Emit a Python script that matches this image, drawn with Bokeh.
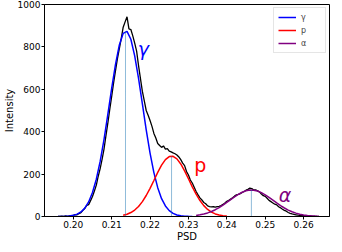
from bokeh.plotting import figure
from bokeh.models import Range1d, FixedTicker, Label, NumeralTickFormatter
from bokeh.embed import file_html
from bokeh.resources import INLINE

# measured spectrum (PSD bin centre, intensity)
psd = [0.1960, 0.1965, 0.1970, 0.1975, 0.1980, 0.1985, 0.1990, 0.1995,
       0.2000, 0.2005, 0.2010, 0.2015, 0.2020, 0.2025, 0.2030, 0.2035,
       0.2040, 0.2045, 0.2050, 0.2055, 0.2060, 0.2065, 0.2070, 0.2075,
       0.2080, 0.2085, 0.2090, 0.2095, 0.2100, 0.2105, 0.2110, 0.2115,
       0.2120, 0.2125, 0.2130, 0.2135, 0.2140, 0.2145, 0.2150, 0.2155,
       0.2160, 0.2165, 0.2170, 0.2175, 0.2180, 0.2185, 0.2190, 0.2195,
       0.2200, 0.2205, 0.2210, 0.2215, 0.2220, 0.2225, 0.2230, 0.2235,
       0.2240, 0.2245, 0.2250, 0.2255, 0.2260, 0.2265, 0.2270, 0.2275,
       0.2280, 0.2285, 0.2290, 0.2295, 0.2300, 0.2305, 0.2310, 0.2315,
       0.2320, 0.2325, 0.2330, 0.2335, 0.2340, 0.2345, 0.2350, 0.2355,
       0.2360, 0.2365, 0.2370, 0.2375, 0.2380, 0.2385, 0.2390, 0.2395,
       0.2400, 0.2405, 0.2410, 0.2415, 0.2420, 0.2425, 0.2430, 0.2435,
       0.2440, 0.2445, 0.2450, 0.2455, 0.2460, 0.2465, 0.2470, 0.2475,
       0.2480, 0.2485, 0.2490, 0.2495, 0.2500, 0.2505, 0.2510, 0.2515,
       0.2520, 0.2525, 0.2530, 0.2535, 0.2540, 0.2545, 0.2550, 0.2555,
       0.2560, 0.2565, 0.2570, 0.2575, 0.2580, 0.2585, 0.2590, 0.2595,
       0.2600, 0.2605, 0.2610, 0.2615, 0.2620, 0.2625, 0.2630, 0.2635]
intensity = [1, 0, 2, 1, 3, 1, 3, 4,
             5, 9, 8, 14, 18, 29, 38, 52,
             56, 75, 94, 120, 148, 190, 226, 270,
             318, 380, 440, 505, 566, 630, 688, 745,
             792, 840, 893, 918, 942, 885, 882, 852,
             818, 780, 712, 650, 590, 545, 500, 478,
             453, 425, 392, 370, 344, 335, 326, 333,
             318, 320, 308, 305, 300, 296, 290, 281,
             268, 252, 240, 212, 196, 172, 158, 138,
             118, 102, 88, 78, 66, 60, 50, 47,
             45, 46, 44, 47, 48, 52, 57, 64,
             72, 76, 82, 88, 96, 102, 104, 108,
             113, 118, 124, 128, 134, 132, 125, 126,
             121, 116, 106, 98, 95, 86, 76, 70,
             64, 58, 55, 46, 41, 34, 29, 25,
             19, 15, 12, 10, 8, 6, 5, 4,
             4, 3, 3, 2, 2, 1, 1, 1]

# fitted components
gamma_x = [0.196, 0.197, 0.198, 0.199, 0.200, 0.201, 0.202, 0.203, 0.204,
           0.205, 0.206, 0.207, 0.208, 0.209, 0.210, 0.211, 0.212, 0.213,
           0.214, 0.215, 0.216, 0.217, 0.218, 0.219, 0.220, 0.221, 0.222,
           0.223, 0.224, 0.225, 0.226, 0.227, 0.228, 0.229, 0.230, 0.231]
gamma_y = [0.2, 0.5, 1.1, 2.5, 5.4, 11.2, 21.6, 39.5, 68.7,
           113, 176, 260, 363, 482, 604, 718, 809, 864,
           873, 836, 758, 652, 531, 409, 299, 207, 136,
           84, 49.7, 27.7, 14.6, 7.3, 3.5, 1.6, 0.7, 0.3]

proton_x = [0.213, 0.214, 0.215, 0.216, 0.217, 0.218, 0.219, 0.220, 0.221,
            0.222, 0.223, 0.224, 0.225, 0.226, 0.227, 0.228, 0.229, 0.230,
            0.231, 0.232, 0.233, 0.234, 0.235, 0.236, 0.237, 0.238, 0.239,
            0.240]
proton_y = [6.0, 10.9, 18.6, 30.4, 47.3, 70.1, 99, 133, 170,
            208, 242, 268, 282.5, 284, 272, 248, 215, 178,
            140, 105.5, 75.4, 51.4, 33.4, 20.6, 12.2, 6.8, 3.6,
            1.9]

alpha_x = [0.232, 0.233, 0.234, 0.235, 0.236, 0.237, 0.238, 0.239, 0.240,
           0.241, 0.242, 0.243, 0.244, 0.245, 0.246, 0.247, 0.248, 0.249,
           0.250, 0.251, 0.252, 0.253, 0.254, 0.255, 0.256, 0.257, 0.258,
           0.259, 0.260, 0.261, 0.262, 0.263, 0.264]
alpha_y = [5.1, 7.9, 11.7, 16.9, 23.7, 32.1, 42.2, 53.8, 66.6,
           79.8, 92.8, 104.6, 114.4, 121.3, 124.7, 124.3, 120.2, 112.6,
           102.4, 90.3, 77.2, 63.9, 51.4, 40.1, 30.3, 22.2, 15.8,
           10.9, 7.3, 4.7, 3.0, 1.8, 1.1]

# peak centres and heights of the fits
peak_x = [0.2136, 0.2256, 0.2464]
peak_y = [875, 285, 125]

series_labels = ["γ", "p", "α"]
series_colors = ["#0000ff", "#ff0000", "#800080"]

x_ticks = [0.20, 0.21, 0.22, 0.23, 0.24, 0.25, 0.26]
y_ticks = [0, 200, 400, 600, 800, 1000]

p = figure(width=330, height=244, output_backend="svg", toolbar_location=None,
           x_range=Range1d(0.1925, 0.26675), y_range=Range1d(0, 1000),
           min_border_top=4, min_border_right=1, min_border_left=2,
           min_border_bottom=2)

p.background_fill_color = "white"
p.border_fill_color = "white"
p.outline_line_color = "black"
p.outline_line_width = 1
p.xgrid.visible = False
p.ygrid.visible = False

FONT = "DejaVu Sans"
for ax in (p.xaxis[0], p.yaxis[0]):
    ax.major_label_text_font = FONT
    ax.major_label_text_font_size = "9px"
    ax.major_label_text_color = "black"
    ax.axis_label_text_font = FONT
    ax.axis_label_text_font_size = "10px"
    ax.axis_label_text_font_style = "normal"
    ax.axis_label_text_color = "black"
    ax.axis_line_color = "black"
    ax.major_tick_line_color = "black"
    ax.major_tick_out = 3
    ax.major_tick_in = 0
    ax.minor_tick_line_color = None
    ax.major_label_standoff = 1
    ax.axis_label_standoff = 0

p.xaxis.ticker = FixedTicker(ticks=x_ticks)
p.xaxis.formatter = NumeralTickFormatter(format="0.00")
p.yaxis.ticker = FixedTicker(ticks=y_ticks)
p.xaxis.axis_label = "PSD"
p.yaxis.axis_label = "Intensity"

p.line(psd, intensity, line_color="black", line_width=1.3)

curves = [(gamma_x, gamma_y), (proton_x, proton_y), (alpha_x, alpha_y)]
for (cx, cy), lab, col in zip(curves, series_labels, series_colors):
    p.line(cx, cy, line_color=col, line_width=1.5, legend_label=lab)

p.segment(x0=peak_x, y0=[0] * len(peak_x), x1=peak_x, y1=peak_y,
          line_color="#1f77b4", line_alpha=1.0, line_width=1,
          line_dash="1 1")

label_specs = [
    (0.2168, 790, "γ", "#0000ff", "italic"),
    (0.2315, 245, "p", "#ff0000", "normal"),
    (0.2535, 100, "α", "#800080", "italic"),
]
for lx, ly, txt, col, style in label_specs:
    p.add_layout(Label(x=lx, y=ly, text=txt, text_color=col,
                       text_font=FONT, text_font_size="19px",
                       text_font_style=style, text_baseline="alphabetic",
                       text_align="left"))

lg = p.legend[0]
lg.location = "top_right"
lg.label_text_font = FONT
lg.label_text_font_size = "8px"
lg.label_height = 10
lg.glyph_height = 10
lg.glyph_width = 18
lg.spacing = 3
lg.padding = 4
lg.margin = 3
lg.label_standoff = 5
lg.border_line_color = "#cccccc"
lg.border_line_width = 1
lg.background_fill_alpha = 0.8

open("out.html", "w").write(file_html(p, INLINE))
